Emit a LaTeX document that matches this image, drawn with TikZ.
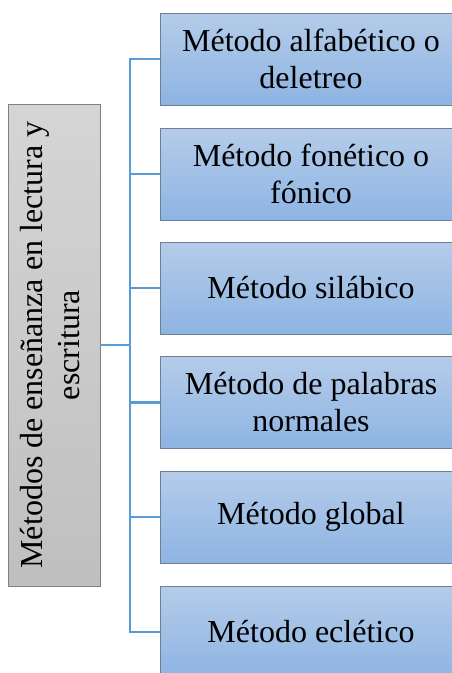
\documentclass[tikz,border=0pt]{standalone}
\usepackage{fontspec}
\setmainfont{Liberation Serif}
\usepackage{tikz}
\definecolor{azulclaro}{HTML}{B4CCE9}
\definecolor{azul}{HTML}{8EB4E3}
\definecolor{borde}{HTML}{6E7F93}
\definecolor{linea}{HTML}{5B9BD5}
\tikzset{>=latex,
    metodo/.style={draw=borde, top color=azulclaro, bottom color=azul, inner sep=0pt,
        minimum width=302pt, minimum height=92pt, align=center,
        font=\fontsize{32}{37}\selectfont},
    raiz/.style={draw=gray, top color=gray!33, bottom color=gray!50, inner sep=0pt,
        minimum width=92pt, minimum height=482pt,
        font=\fontsize{32}{37}\selectfont},
    rama/.style={draw=linea, line width=2.2pt}}

\begin{document}
\begin{tikzpicture}[x=1pt, y=-1pt]
    \clip (0,0) rectangle (452,673);
    \node[raiz] at (54, 345) (raiz) {\rotatebox{90}{\begin{tabular}{@{}c@{}}M\'etodos de ense\~nanza en lectura y\\ escritura\end{tabular}}};
    \node[metodo] at (311, 59) (m1) {M\'etodo alfab\'etico o\\deletreo};
    \node[metodo] at (311, 174) (m2) {M\'etodo fon\'etico o\\f\'onico};
    \node[metodo] at (311, 288) (m3) {M\'etodo sil\'abico};
    \node[metodo] at (311, 402.5) (m4) {M\'etodo de palabras\\normales};
    \node[metodo] at (311, 517) (m5) {M\'etodo global};
    \node[metodo] at (311, 632) (m6) {M\'etodo ecl\'etico};
    \coordinate (tronco) at (130, 345);
    \draw[rama] (raiz.east) -- (tronco);
    \draw[rama] (m1.west) -| (tronco);
    \draw[rama] (m2.west) -| (tronco);
    \draw[rama] (m3.west) -| (tronco);
    \draw[rama] (m4.west) -| (tronco);
    \draw[rama] (m5.west) -| (tronco);
    \draw[rama] (m6.west) -| (tronco);
  \end{tikzpicture}
\end{document}
